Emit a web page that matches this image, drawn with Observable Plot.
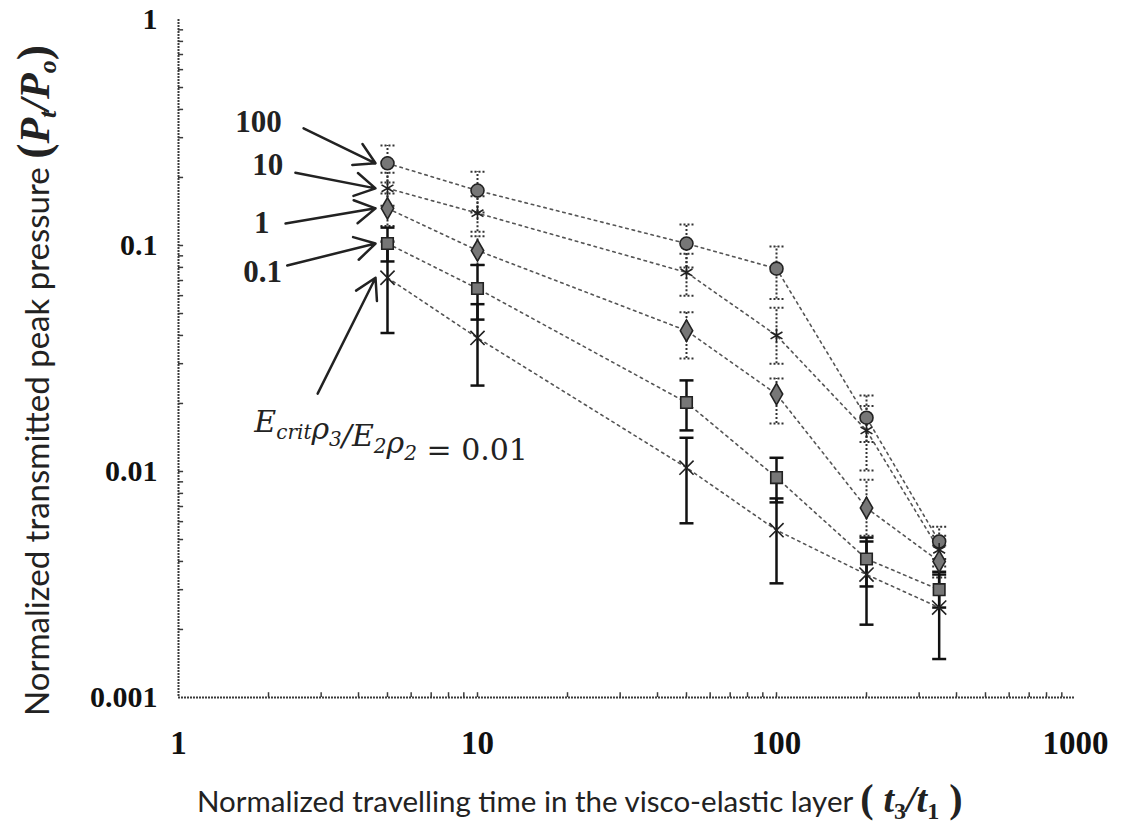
<!DOCTYPE html>
<html><head><meta charset="utf-8">
<script src="https://cdn.jsdelivr.net/npm/d3@7"></script>
<script src="https://cdn.jsdelivr.net/npm/@observablehq/plot@0.6"></script>
<style>body{margin:0;background:#fff} #chart{width:1125px;height:839px}</style>
</head><body><div id="chart"></div>
<script>
// ---- data ----
const times = [5, 10, 50, 100, 200, 350];
const seriesNames = ["100", "10", "1", "0.1", "0.01"];
const p100 = [0.231, 0.175, 0.102, 0.079, 0.0173, 0.0049];
const p10  = [0.179, 0.139, 0.076, 0.040, 0.0152, 0.0045];
const p1   = [0.146, 0.095, 0.042, 0.022, 0.0069, 0.0040];
const p01  = [0.102, 0.0645, 0.0202, 0.0094, 0.0041, 0.0030];
const p001 = [0.072, 0.039, 0.0104, 0.0055, 0.0035, 0.0025];
const lo100 = [0.19, 0.14, 0.080, 0.058, 0.0135, 0.0041];
const hi100 = [0.277, 0.212, 0.124, 0.099, 0.0217, 0.0057];
const lo10  = [0.15, 0.115, 0.060, 0.030, 0.0101, 0.0038];
const hi10  = [0.21, 0.165, 0.092, 0.053, 0.0195, 0.0052];
const lo1   = [0.122, 0.082, 0.0316, 0.0163, 0.0052, 0.0034];
const hi1   = [0.17, 0.11, 0.0506, 0.0258, 0.0092, 0.0047];
const lo01  = [0.085, 0.047, 0.0152, 0.0073, 0.0031, 0.0025];
const hi01  = [0.12, 0.082, 0.0253, 0.0115, 0.0051, 0.0036];
const lo001 = [0.041, 0.024, 0.0059, 0.0032, 0.0021, 0.00148];
const hi001 = [0.104, 0.055, 0.0141, 0.0076, 0.0049, 0.0035];

const xTicks = [1, 10, 100, 1000];
const xTickLabels = ["1", "10", "100", "1000"];
const yTicks = [0.001, 0.01, 0.1, 1];
const yTickLabels = ["0.001", "0.01", "0.1", "1"];

// annotation labels with arrows pointing to the t3/t1 = 5 points
const annoLabels = ["100", "10", "1", "0.1"];
const annoX = [1.85, 1.99, 1.90, 1.91];
const annoY = [0.350, 0.226, 0.126, 0.076];
const arrowStartX = [2.62, 2.46, 2.28, 2.31, 2.92];
const arrowStartY = [0.330, 0.210, 0.125, 0.0816, 0.0221];
const arrowEndX = 4.56;
const formulaX = 1.80;   // left end of the E_crit formula
const formulaY = 0.0165;

// ---- build tables ----
const values = [p100, p10, p1, p01, p001];
const lows = [lo100, lo10, lo1, lo01, lo001];
const highs = [hi100, hi10, hi1, hi01, hi001];
const rows = [];
seriesNames.forEach((s, i) => times.forEach((t, j) => rows.push({
  series: s, idx: i, x: t, y: values[i][j], lo: lows[i][j], hi: highs[i][j]
})));
const dottedRows = rows.filter(d => d.idx < 3);
const solidRows = rows.filter(d => d.idx >= 3);
const arrows = arrowStartX.map((x1, i) => ({x1, y1: arrowStartY[i], x2: arrowEndX, y2: values[i][0]}));
const labels = annoLabels.map((t, i) => ({t, x: annoX[i], y: annoY[i]}));

const minorX = [0, 1, 2].flatMap(k => d3.range(1, 10).map(m => m * 10 ** k)).filter(v => v > 1);
const minorY = [-3, -2, -1].flatMap(k => d3.range(1, 10).map(m => +(m * 10 ** k).toPrecision(3))).filter(v => v > 0.001);

const capSymbol = {draw(ctx, size) { const r = Math.sqrt(size / Math.PI); ctx.moveTo(-r, 0); ctx.lineTo(r, 0); }};

const serif = "'Liberation Serif', 'DejaVu Serif', serif";
const ink = "#3a3a3a";

const plot = Plot.plot({
  width: 1125, height: 839,
  marginLeft: 178, marginRight: 50, marginTop: 19, marginBottom: 142,
  x: {type: "log", domain: [1, 1000]},
  y: {type: "log", domain: [0.001, 1]},
  symbol: {domain: seriesNames, range: ["circle", "asterisk", "diamond", "square", "times"]},
  style: {background: "#fff", color: "#111"},
  marks: [
    // minor ticks (inside)
    Plot.ruleX(minorX, {x: d => d, y1: 0.001, y2: 0.00105, stroke: ink, strokeWidth: 1.5}),
    Plot.ruleY(minorY, {y: d => d, x1: 1, x2: 1.04, stroke: ink, strokeWidth: 1.5}),
    // frame lines
    Plot.ruleX([1], {stroke: ink, strokeWidth: 2, strokeDasharray: "2,1"}),
    Plot.ruleY([0.001], {stroke: ink, strokeWidth: 2, strokeDasharray: "2,1"}),
    // tick labels
    Plot.axisX({ticks: xTicks, tickSize: 0, tickPadding: 33, fontSize: 33, fontWeight: "bold", fontFamily: serif, tickFormat: d => xTickLabels[xTicks.indexOf(d)], label: null}),
    Plot.axisY({ticks: yTicks, tickSize: 0, tickPadding: 21, fontSize: 30, fontWeight: "bold", fontFamily: serif, tickFormat: d => yTickLabels[yTicks.indexOf(d)], label: null}),
    // series lines
    Plot.line(rows, {x: "x", y: "y", z: "series", stroke: "#555", strokeWidth: 1.6, strokeDasharray: "2.5,4"}),
    // error bars
    Plot.ruleX(dottedRows, {x: "x", y1: "lo", y2: "hi", stroke: "#333", strokeWidth: 2, strokeDasharray: "2,2"}),
    Plot.ruleX(solidRows, {x: "x", y1: "lo", y2: "hi", stroke: "#111", strokeWidth: 2.5}),
    Plot.dot(dottedRows, {x: "x", y: "lo", symbol: () => capSymbol, r: 7, stroke: "#333", strokeWidth: 2, strokeDasharray: "2,2"}),
    Plot.dot(dottedRows, {x: "x", y: "hi", symbol: () => capSymbol, r: 7, stroke: "#333", strokeWidth: 2, strokeDasharray: "2,2"}),
    Plot.dot(solidRows, {x: "x", y: "lo", symbol: () => capSymbol, r: 7, stroke: "#111", strokeWidth: 2.5}),
    Plot.dot(solidRows, {x: "x", y: "hi", symbol: () => capSymbol, r: 7, stroke: "#111", strokeWidth: 2.5}),
    // markers
    Plot.dot(rows, {x: "x", y: "y", symbol: "series", r: 6.5, fill: "#777", stroke: "#222", strokeWidth: 1.6}),
    // annotations
    Plot.arrow(arrows, {x1: "x1", y1: "y1", x2: "x2", y2: "y2", stroke: "#222", strokeWidth: 2.5, headLength: 14}),
    Plot.text(labels, {x: "x", y: "y", text: "t", fontSize: 31, fontWeight: "bold", fontFamily: serif, fill: "#222"})
  ]
});

document.getElementById("chart").appendChild(plot);

// ---- titles and formula, placed with the plot's scales ----
const svg = d3.select(plot);
const sx = plot.scale("x"), sy = plot.scale("y");

// formula E_crit rho3 / E2 rho2 = 0.01
const mathFont = "'DejaVu Serif', 'Liberation Serif', serif";
const f = svg.append("text")
  .attr("text-anchor", "start")
  .attr("x", sx.apply(formulaX)).attr("y", sy.apply(formulaY) + 10)
  .attr("font-family", mathFont).attr("font-size", 30).attr("fill", "#222");
const sub = (txt) => { f.append("tspan").attr("dy", 7).attr("font-size", 20).attr("font-style", "italic").text(txt); f.append("tspan").attr("dy", -7).text(""); };
f.append("tspan").attr("font-style", "italic").text("E");
sub("crit");
f.append("tspan").attr("font-style", "italic").text("ρ");
sub("3");
f.append("tspan").attr("font-style", "italic").text("/E");
sub("2");
f.append("tspan").attr("font-style", "italic").text("ρ");
sub("2");
f.append("tspan").text(" = 0.01");

// x title
const sans = "Lato, 'Open Sans', sans-serif";
const xt = svg.append("text").attr("text-anchor", "start").attr("x", 197).attr("y", 812)
  .attr("font-family", sans).attr("font-size", 29.5).attr("fill", "#222");
xt.append("tspan").text("Normalized travelling time in the visco-elastic layer ");
xt.append("tspan").attr("font-family", serif).attr("font-weight", "bold").attr("font-size", 40).text("( ");
xt.append("tspan").attr("font-family", serif).attr("font-weight", "bold").attr("font-style", "italic").attr("font-size", 38).text("t");
xt.append("tspan").attr("font-family", serif).attr("font-weight", "bold").attr("font-size", 24).attr("dy", 7).text("3");
xt.append("tspan").attr("font-family", serif).attr("font-weight", "bold").attr("font-style", "italic").attr("font-size", 38).attr("dy", -7).text("/t");
xt.append("tspan").attr("font-family", serif).attr("font-weight", "bold").attr("font-size", 24).attr("dy", 7).text("1");
xt.append("tspan").attr("font-family", serif).attr("font-weight", "bold").attr("font-size", 40).attr("dy", -7).text(" )");

// y title (rotated)
const yt = svg.append("text").attr("text-anchor", "start").attr("transform", "translate(49,716) rotate(-90)")
  .attr("font-family", sans).attr("font-size", 33).attr("fill", "#222");
yt.append("tspan").text("Normalized transmitted peak pressure ");
yt.append("tspan").attr("font-family", serif).attr("font-weight", "bold").attr("font-size", 46).text("(");
yt.append("tspan").attr("font-family", serif).attr("font-weight", "bold").attr("font-style", "italic").attr("font-size", 42).text("P");
yt.append("tspan").attr("font-family", serif).attr("font-weight", "bold").attr("font-style", "italic").attr("font-size", 26).attr("dy", 7).text("t");
yt.append("tspan").attr("font-family", serif).attr("font-weight", "bold").attr("font-style", "italic").attr("font-size", 42).attr("dy", -7).text("/P");
yt.append("tspan").attr("font-family", serif).attr("font-weight", "bold").attr("font-style", "italic").attr("font-size", 26).attr("dy", 7).text("o");
yt.append("tspan").attr("font-family", serif).attr("font-weight", "bold").attr("font-size", 46).attr("dy", -7).text(")");
</script>
</body></html>
